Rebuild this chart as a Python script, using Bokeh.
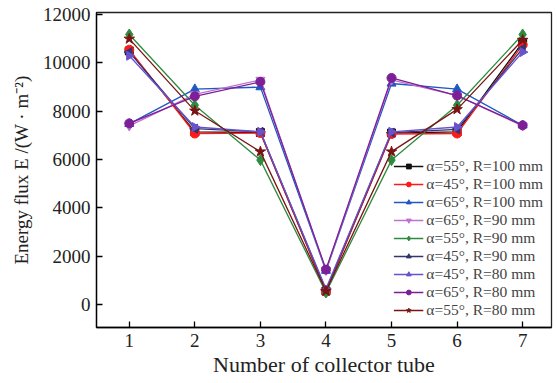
from bokeh.plotting import figure
from bokeh.models import Range1d, Legend, LegendItem, FixedTicker
from bokeh.embed import file_html
from bokeh.resources import INLINE
import numpy as np

tubes = [1, 2, 3, 4, 5, 6, 7]

labels = [
    "α=55°, R=100 mm",
    "α=45°, R=100 mm",
    "α=65°, R=100 mm",
    "α=65°, R=90 mm",
    "α=55°, R=90 mm",
    "α=45°, R=90 mm",
    "α=45°, R=80 mm",
    "α=65°, R=80 mm",
    "α=55°, R=80 mm",
]

s55_100 = [10500, 7150, 7120, 560, 7100, 7150, 10850]
s45_100 = [10550, 7080, 7100, 540, 7060, 7080, 10750]
s65_100 = [7480, 8920, 9000, 1400, 9150, 8920, 7420]
s65_90 = [7400, 8700, 9300, 1420, 9300, 8650, 7400]
s55_90 = [11180, 8250, 5980, 500, 5980, 8250, 11180]
s45_90 = [10450, 7280, 7150, 600, 7120, 7250, 10600]
s45_80 = [10300, 7350, 7150, 650, 7150, 7350, 10450]
s65_80 = [7500, 8620, 9220, 1450, 9380, 8650, 7420]
s55_80 = [11000, 8020, 6330, 560, 6330, 8080, 10950]

series = [s55_100, s45_100, s65_100, s65_90, s55_90, s45_90, s45_80, s65_80, s55_80]
colors = ["#111111", "#ff1a1a", "#1f57c3", "#c070d0", "#2e8b3e",
          "#34346e", "#6a52cc", "#7d1f96", "#7a1414"]
markers = ["square", "circle", "triangle", "inverted_triangle", "diamond",
           "triangle", "triangle", "circle", "star"]
angles = [0, 0, 0, 0, 0, np.pi / 2, -np.pi / 2, 0, 0]
sizes = [8, 9, 9, 9, 11, 9, 9, 9, 11]

FONT = "Liberation Serif"

p = figure(width=557, height=383, output_backend="svg", toolbar_location=None,
           x_range=Range1d(0.5, 7.44), y_range=Range1d(-950, 12090),
           min_border_left=96, min_border_right=6, min_border_top=12,
           min_border_bottom=56)
p.xgrid.visible = False
p.ygrid.visible = False
p.outline_line_color = "#222222"
p.outline_line_width = 1.3

items = []
for ys, c, m, a, s, lab in zip(series, colors, markers, angles, sizes, labels):
    r1 = p.line(tubes, ys, line_color=c, line_width=1.3)
    r2 = p.scatter(tubes, ys, marker=m, angle=a, size=s, fill_color=c, line_color=c)
    items.append(LegendItem(label=lab, renderers=[r1, r2]))

legend = Legend(items=items, location="bottom_right", border_line_color=None,
                background_fill_alpha=0, label_text_font=FONT,
                label_text_font_size="15.5px", label_text_line_height=0.8,
                glyph_width=30, glyph_height=12,
                spacing=0, padding=0, margin=8, label_height=12,
                label_standoff=3)
p.add_layout(legend)

for ax in (p.xaxis[0], p.yaxis[0]):
    ax.major_tick_in = 6
    ax.major_tick_out = 0
    ax.minor_tick_line_color = None
    ax.axis_line_width = 1.3
    ax.major_tick_line_width = 1.3
    ax.major_label_text_font = FONT
    ax.major_label_text_font_size = "19px"
    ax.axis_label_text_font = FONT
    ax.axis_label_text_font_style = "normal"
    ax.major_label_text_color = "#222222"
    ax.axis_label_text_color = "#222222"

p.xaxis.axis_label_text_font_size = "22px"
p.yaxis.axis_label_text_font_size = "19px"
p.xaxis.ticker = FixedTicker(ticks=tubes)
p.yaxis.ticker = FixedTicker(ticks=[0, 2000, 4000, 6000, 8000, 10000, 12000])
p.xaxis.axis_label = "Number of collector tube"
p.yaxis.axis_label = "Energy flux E /(W · m⁻²)"
p.xaxis.axis_label_standoff = 2
p.yaxis.axis_label_standoff = 8
p.xaxis.major_label_standoff = 6
p.yaxis.major_label_standoff = 6

open("out.html", "w").write(file_html(p, INLINE))
